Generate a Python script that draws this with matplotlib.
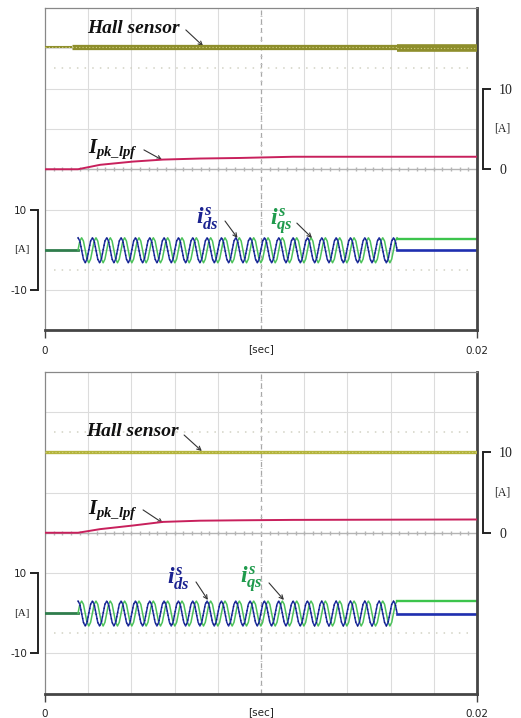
import numpy as np
import matplotlib.pyplot as plt
from matplotlib.transforms import blended_transform_factory

plt.rcParams['mathtext.fontset'] = 'custom'
plt.rcParams['mathtext.it'] = 'Liberation Serif:italic:bold'
plt.rcParams['mathtext.rm'] = 'Liberation Serif:bold'
plt.rcParams['mathtext.bf'] = 'Liberation Serif:bold'

T_END = 0.02

# ---- values read off the two scope captures (time in s, current in A) ----
# low-pass filtered peak current
ipk_t_top = [0, 0.00153, 0.00255, 0.00407, 0.00546, 0.00718, 0.00903, 0.01148, 0.02]
ipk_top = [0, 0, 0.55, 0.95, 1.2, 1.33, 1.4, 1.55, 1.55]
ipk_t_bot = [0, 0.00153, 0.00255, 0.00407, 0.00546, 0.00718, 0.00903, 0.01148, 0.02]
ipk_bot = [0, 0, 0.45, 0.9, 1.35, 1.5, 1.55, 1.6, 1.65]

# hall sensor channel (same 5 A/div scale as Ipk): segment breakpoints and levels
hall_t_top = [0, 0.00125, 0.0163, 0.02]
hall_top = [15.2, 15.2, 15.0]
hall_t_bot = [0, 0.02]
hall_bot = [10.0]

# stationary frame currents: one cycle of samples, injected between t_on and t_off
ids_cycle = [3.0, 2.2, 0.0, -2.3, -3.2, -2.3, 0.0, 2.2]
iqs_cycle = [0.0, 2.2, 3.0, 2.2, 0.0, -2.3, -3.2, -2.3]
n_cycles = 22
t_on = 0.00153
t_off = 0.0163
ids_after_top, iqs_after_top = 0.0, 2.8
ids_after_bot, iqs_after_bot = -0.1, 3.0

fig = plt.figure(figsize=(5.21, 7.18), dpi=100)


def current_trace(cycle, after):
    wave = list(cycle) * n_cycles + list(cycle[:3])
    t = np.linspace(t_on, t_off, len(wave))
    return t, np.array(wave), [t_off, T_END], [after, after]


def scope_panel(rect, ipk_t, ipk, hall_t, hall, hall_w, hall_c, ids_after, iqs_after, lab):
    ax = fig.add_axes(rect)
    ax.set_xlim(0, T_END)
    ax.set_ylim(-20, 60)          # phase currents: 10 A/div
    axi = ax.twinx()
    axi.set_ylim(-20, 20)         # Ipk / hall: 5 A/div

    # scope graticule
    for k in range(1, 10):
        if k != 5:
            ax.axvline(k * T_END / 10, color='#dcdcdc', lw=0.8, zorder=0)
    for v in range(-10, 60, 10):
        if v != 20:
            ax.axhline(v, color='#dcdcdc', lw=0.8, zorder=0)
    ax.axvline(T_END / 2, color='#a8a8a8', lw=0.9, ls=(0, (4, 3)), zorder=0)
    ax.axhline(20, color='#b4b4b4', lw=1.0, zorder=0)
    tk = np.arange(0, T_END, T_END / 50)
    ax.plot(tk, np.full(len(tk), 20), '|', ms=2.5, color='#b4b4b4', zorder=0)
    vk = np.arange(-20, 60, 2)
    ax.plot(np.full(len(vk), T_END / 2), vk, '_', ms=2, mew=0.7, color='#c4c4c4', zorder=0)
    for v in (-5, 45):
        ax.axhline(v, xmin=0.02, xmax=0.98, color='#d2d2c4', lw=1.1, ls=(0, (1, 4)), zorder=0)

    # frame
    ax.spines['top'].set_color('#888888')
    ax.spines['top'].set_linewidth(0.9)
    for s in ('right', 'bottom'):
        ax.spines[s].set_color('#454545')
        ax.spines[s].set_linewidth(2)
    ax.axvline(0, color='#888888', lw=0.9, clip_on=False, zorder=1)

    # left bracket: phase current scale
    ax.spines['left'].set_position(('outward', 5))
    ax.spines['left'].set_bounds(-10, 10)
    ax.spines['left'].set_color('#222222')
    ax.spines['left'].set_linewidth(1.4)
    ax.set_yticks([-10, 10])
    ax.set_yticklabels(['-10', '10'])
    ax.tick_params(axis='y', direction='out', length=6, width=1.4, color='#222222',
                   pad=2, labelsize=7.5, labelcolor='#222222')
    ax.set_xticks([0, T_END])
    ax.set_xticklabels(['0', '0.02'])
    ax.tick_params(axis='x', direction='out', length=6, width=1.0, color='#444444',
                   pad=5, labelsize=7.5, labelcolor='#222222')
    tr = blended_transform_factory(ax.transAxes, ax.transData)
    ax.text(-0.054, 0, '[A]', transform=tr, ha='center', va='center',
            fontfamily='Liberation Serif', fontsize=8, color='#222222')
    ax.text(0.5, -0.057, '[sec]', transform=ax.transAxes, ha='center', va='center',
            fontsize=7.5, color='#222222')

    # right bracket: Ipk scale
    for s in ('left', 'top', 'bottom'):
        axi.spines[s].set_visible(False)
    axi.spines['right'].set_position(('outward', 4))
    axi.spines['right'].set_bounds(0, 10)
    axi.spines['right'].set_color('#222222')
    axi.spines['right'].set_linewidth(1.4)
    axi.set_yticks([0, 10])
    axi.set_yticklabels(['0', '10'])
    axi.tick_params(axis='y', direction='out', length=6, width=1.4, color='#222222',
                    pad=6, labelsize=10, labelcolor='#222222')
    for t in axi.get_yticklabels():
        t.set_fontfamily('Liberation Serif')
    tri = blended_transform_factory(axi.transAxes, axi.transData)
    axi.text(1.058, 5, '[A]', transform=tri, ha='center', va='center',
             fontfamily='Liberation Serif', fontsize=8.5, color='#222222')

    # traces
    for i in range(len(hall)):
        axi.plot(hall_t[i:i + 2], [hall[i], hall[i]], color=hall_c, lw=hall_w[i],
                 solid_capstyle='butt')
        axi.plot(hall_t[i:i + 2], [hall[i], hall[i]], color='#cfcf80', lw=0.8,
                 ls=(0, (1, 2)))
    axi.plot(ipk_t, ipk, color='#c8205c', lw=1.4)

    t_q, w_q, tt_q, a_q = current_trace(iqs_cycle, iqs_after)
    t_d, w_d, tt_d, a_d = current_trace(ids_cycle, ids_after)
    ax.plot([0, t_on], [0, 0], color='#2f7d4c', lw=2.0)
    ax.plot(t_q, w_q, color='#4cc25a', lw=1.1)
    ax.plot(t_d, w_d, color='#2233a8', lw=1.1)
    ax.plot(t_d, w_d, color='#10186e', lw=0.9, ls=(0, (1, 2.5)))
    ax.plot(tt_q, a_q, color='#3cc44c', lw=1.7)
    ax.plot(tt_d, a_d, color='#1f2fb0', lw=1.9)

    # labels and pointers
    ax.text(*lab['hall'], 'Hall sensor', transform=ax.transAxes, ha='left', va='center',
            fontfamily='Liberation Serif', fontweight='bold', fontstyle='italic',
            fontsize=14, color='#111111')
    ax.text(*lab['ipk'], r'$I_{pk\_lpf}$', transform=ax.transAxes, ha='left', va='center',
            fontsize=15, color='#111111')
    ax.text(*lab['ids'], r'$i^{s}_{ds}$', transform=ax.transAxes, ha='left', va='center',
            fontsize=17, color='#1b2290')
    ax.text(*lab['iqs'], r'$i^{s}_{qs}$', transform=ax.transAxes, ha='left', va='center',
            fontsize=17, color='#1f9a4c')
    for a, b in lab['arrows']:
        ax.annotate('', xy=b, xytext=a, xycoords='axes fraction', textcoords='axes fraction',
                    arrowprops=dict(arrowstyle='->', color='#333333', lw=0.8,
                                    shrinkA=0, shrinkB=0, mutation_scale=7))
    return ax


lab_top = {
    'hall': (0.097, 0.936),
    'ipk': (0.099, 0.563),
    'ids': (0.350, 0.346),
    'iqs': (0.521, 0.340),
    'arrows': [((0.326, 0.932), (0.366, 0.882)),
               ((0.229, 0.560), (0.271, 0.529)),
               ((0.4167, 0.3395), (0.4456, 0.2868)),
               ((0.583, 0.333), (0.618, 0.287))],
}
lab_bot = {
    'hall': (0.095, 0.815),
    'ipk': (0.099, 0.571),
    'ids': (0.283, 0.356),
    'iqs': (0.452, 0.356),
    'arrows': [((0.322, 0.804), (0.363, 0.754)),
               ((0.227, 0.571), (0.273, 0.530)),
               ((0.3495, 0.347), (0.377, 0.291)),
               ((0.5185, 0.344), (0.553, 0.291))],
}

scope_panel([45 / 521, 1 - 330.5 / 718, 432 / 521, 322.5 / 718],
            ipk_t_top, ipk_top, hall_t_top, hall_top, [1.5, 3.8, 5.5], '#8e8e2c',
            ids_after_top, iqs_after_top, lab_top)
scope_panel([45 / 521, 1 - 693.5 / 718, 432 / 521, 321.5 / 718],
            ipk_t_bot, ipk_bot, hall_t_bot, hall_bot, [2.4], '#b4b43c',
            ids_after_bot, iqs_after_bot, lab_bot)

fig.savefig('out.png', dpi=100)
